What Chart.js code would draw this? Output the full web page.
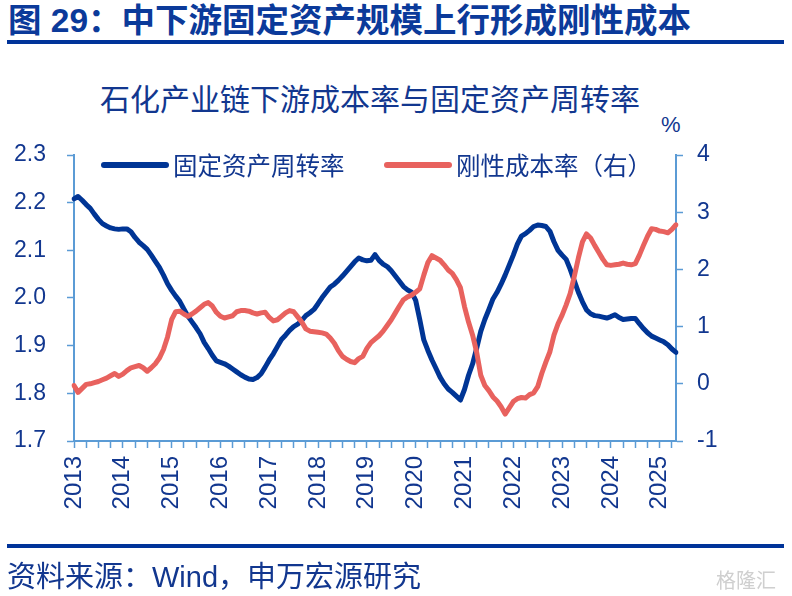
<!DOCTYPE html>
<html>
<head>
<meta charset="utf-8">
<script src="https://cdn.jsdelivr.net/npm/chart.js@4.4.1/dist/chart.umd.min.js"></script>
<style>
  body { margin: 0; background: #fff; width: 792px; height: 596px; overflow: hidden; position: relative; }
  .txt { position: absolute; white-space: nowrap; color: #12378f; }
  #hdr { left: 8px; top: 4px; font: bold 33.5px/1 "Liberation Sans", "Noto Sans CJK SC", sans-serif; color: #0b3a9a; }
  #ttl { left: 100px; top: 82px; font: 30px/1 "Noto Sans CJK SC", sans-serif; }
  #pct { left: 661px; top: 114px; font: 22px/1 "Liberation Sans", sans-serif; }
  #src { left: 7px; top: 563px; font: 29px/1 "Liberation Sans", "Noto Sans CJK SC", sans-serif; }
  #wm { left: 716px; top: 570px; font: 20px/1 "Noto Sans CJK SC", sans-serif; color: #cfcfcf; }
  .rule { position: absolute; left: 7px; width: 777px; height: 4px; background: #003399; }
  canvas { position: absolute; left: 0; top: 0; }
</style>
</head>
<body>
<div class="txt" id="hdr">图 29：中下游固定资产规模上行形成刚性成本</div>
<div class="rule" style="top:40px"></div>
<div class="txt" id="ttl">石化产业链下游成本率与固定资产周转率</div>
<div class="txt" id="pct">%</div>
<canvas id="chart" width="792" height="596"></canvas>
<div class="rule" style="top:544px"></div>
<div class="txt" id="src">资料来源：Wind，申万宏源研究</div>
<div class="txt" id="wm">格隆汇</div>

<script>
// monthly categories, Jan 2013 .. May 2025
const months = [];
for (let y = 2013; y <= 2025; y++) {
  for (let m = 1; m <= 12; m++) {
    if (months.length < 149) months.push(y + '-' + String(m).padStart(2, '0'));
  }
}

// 固定资产周转率 (left axis)
const turnover = [
  2.208, 2.213, 2.205, 2.196, 2.188, 2.176, 2.165, 2.156, 2.151, 2.147, 2.145, 2.144,
  2.145, 2.145, 2.139, 2.127, 2.117, 2.110, 2.102, 2.090, 2.077, 2.064, 2.048, 2.030,
  2.016, 2.004, 1.993, 1.977, 1.962, 1.950, 1.938, 1.925, 1.907, 1.894, 1.880, 1.868,
  1.865, 1.862, 1.857, 1.851, 1.845, 1.839, 1.834, 1.830, 1.829, 1.833, 1.841, 1.855,
  1.870, 1.883, 1.898, 1.913, 1.922, 1.932, 1.940, 1.945, 1.953, 1.963, 1.969, 1.976,
  1.988, 2.001, 2.012, 2.023, 2.029, 2.037, 2.046, 2.056, 2.066, 2.076, 2.084, 2.080,
  2.078, 2.079, 2.091, 2.079, 2.071, 2.066, 2.057, 2.046, 2.035, 2.024, 2.017, 2.012,
  1.995, 1.955, 1.912, 1.890, 1.870, 1.852, 1.834, 1.820, 1.809, 1.802, 1.794, 1.786,
  1.808, 1.838, 1.862, 1.895, 1.930, 1.955, 1.976, 1.998, 2.012, 2.029, 2.048, 2.069,
  2.090, 2.113, 2.130, 2.135, 2.142, 2.150, 2.153, 2.152, 2.150, 2.140, 2.118, 2.100,
  2.090, 2.081, 2.060, 2.036, 2.012, 1.992, 1.975, 1.967, 1.963, 1.962, 1.960, 1.958,
  1.961, 1.965, 1.959, 1.955, 1.956, 1.957, 1.957, 1.946, 1.936, 1.927, 1.920, 1.916,
  1.912, 1.908, 1.902, 1.893, 1.886
];

// 刚性成本率 (right axis, %)
const rigidCost = [
  -0.03, -0.15, -0.08, -0.01, 0.00, 0.02, 0.04, 0.07, 0.10, 0.14, 0.18, 0.13,
  0.17, 0.23, 0.28, 0.30, 0.32, 0.28, 0.22, 0.28, 0.35, 0.45, 0.60, 0.82,
  1.12, 1.26, 1.27, 1.22, 1.18, 1.22, 1.27, 1.33, 1.39, 1.42, 1.36, 1.25,
  1.18, 1.15, 1.17, 1.19, 1.26, 1.28, 1.28, 1.27, 1.24, 1.22, 1.24, 1.25,
  1.16, 1.10, 1.12, 1.18, 1.24, 1.28, 1.26, 1.17, 1.08, 0.96, 0.92, 0.91,
  0.90, 0.89, 0.87, 0.80, 0.71, 0.58, 0.48, 0.43, 0.39, 0.37, 0.44, 0.48,
  0.62, 0.72, 0.78, 0.84, 0.92, 1.02, 1.12, 1.24, 1.36, 1.47, 1.52, 1.55,
  1.60, 1.66, 1.90, 2.12, 2.24, 2.20, 2.16, 2.08, 1.99, 1.93, 1.82, 1.68,
  1.35, 1.08, 0.85, 0.55, 0.15, -0.03, -0.12, -0.23, -0.30, -0.40, -0.53, -0.42,
  -0.31, -0.26, -0.24, -0.25, -0.19, -0.16, -0.05, 0.18, 0.38, 0.56, 0.85, 1.05,
  1.20, 1.38, 1.58, 1.88, 2.20, 2.48, 2.62, 2.55, 2.42, 2.30, 2.18, 2.08,
  2.07, 2.08, 2.09, 2.11, 2.09, 2.08, 2.10, 2.25, 2.42, 2.58, 2.71, 2.70,
  2.67, 2.66, 2.64, 2.70, 2.78
];

const leftTicks = [1.7, 1.8, 1.9, 2.0, 2.1, 2.2, 2.3];
const rightTicks = [-1, 0, 1, 2, 3, 4];

const NAVY = '#003595';
const SALMON = '#e8625e';
const AXIS = '#5b9bd5';
const LABEL = '#12378f';

// legend drawn inside the plot area, like the original
const innerLegend = {
  id: 'innerLegend',
  afterDraw(chart, args, opts) {
    const ctx = chart.ctx;
    ctx.save();
    ctx.font = opts.font;
    ctx.textBaseline = 'middle';
    ctx.lineCap = 'round';
    chart.data.datasets.forEach((ds, i) => {
      const it = opts.items[i];
      ctx.strokeStyle = ds.borderColor;
      ctx.lineWidth = 6;
      ctx.beginPath();
      ctx.moveTo(it.x, opts.y);
      ctx.lineTo(it.x + 62, opts.y);
      ctx.stroke();
      ctx.fillStyle = LABEL;
      ctx.fillText(ds.label, it.x + 69, opts.y + 1);
    });
    ctx.restore();
  }
};

new Chart(document.getElementById('chart'), {
  type: 'line',
  data: {
    labels: months,
    datasets: [
      {
        label: '固定资产周转率',
        data: turnover,
        yAxisID: 'y',
        borderColor: NAVY,
        borderWidth: 5,
        order: 1
      },
      {
        label: '刚性成本率（右）',
        data: rigidCost,
        yAxisID: 'y2',
        borderColor: SALMON,
        borderWidth: 5,
        order: 0
      }
    ]
  },
  options: {
    responsive: false,
    animation: false,
    layout: { padding: { top: 155, left: 0, right: 0, bottom: 0 } },
    elements: {
      point: { radius: 0 },
      line: { tension: 0, borderCapStyle: 'round', borderJoinStyle: 'round' }
    },
    plugins: {
      legend: { display: false },
      tooltip: { enabled: false },
      innerLegend: {
        y: 165,
        font: '24.5px "Noto Sans CJK SC", sans-serif',
        items: [{ x: 104 }, { x: 387 }]
      }
    },
    scales: {
      x: {
        type: 'category',
        offset: false,
        border: { color: AXIS, width: 2 },
        grid: {
          drawOnChartArea: false,
          tickLength: 7,
          tickWidth: 1.5,
          tickColor: (c) => (c.index % 3 === 0 ? AXIS : 'rgba(0,0,0,0)')
        },
        ticks: {
          autoSkip: false,
          maxRotation: 90,
          minRotation: 90,
          padding: 8,
          color: LABEL,
          font: { family: 'Liberation Sans', size: 24 },
          callback: (v, i) => (months[i].endsWith('-01') ? months[i].slice(0, 4) : '')
        },
        afterFit: (s) => { s.height = 155; }
      },
      y: {
        position: 'left',
        min: 1.7,
        max: 2.3,
        border: { color: AXIS, width: 2 },
        grid: { drawOnChartArea: false, tickLength: 7, tickWidth: 1.5, tickColor: AXIS },
        afterBuildTicks: (s) => { s.ticks = leftTicks.map(v => ({ value: v })); },
        ticks: {
          padding: 21,
          color: LABEL,
          font: { family: 'Liberation Sans', size: 23 },
          callback: (v) => v.toFixed(1)
        },
        afterFit: (s) => { s.width = 74; }
      },
      y2: {
        position: 'right',
        min: -1,
        max: 4,
        border: { color: AXIS, width: 2 },
        grid: { drawOnChartArea: false, tickLength: 7, tickWidth: 1.5, tickColor: AXIS },
        afterBuildTicks: (s) => { s.ticks = rightTicks.map(v => ({ value: v })); },
        ticks: {
          padding: 14,
          color: LABEL,
          font: { family: 'Liberation Sans', size: 23 },
          callback: (v) => String(v)
        },
        afterFit: (s) => { s.width = 116; }
      }
    }
  },
  plugins: [innerLegend]
});
</script>
</body>
</html>
